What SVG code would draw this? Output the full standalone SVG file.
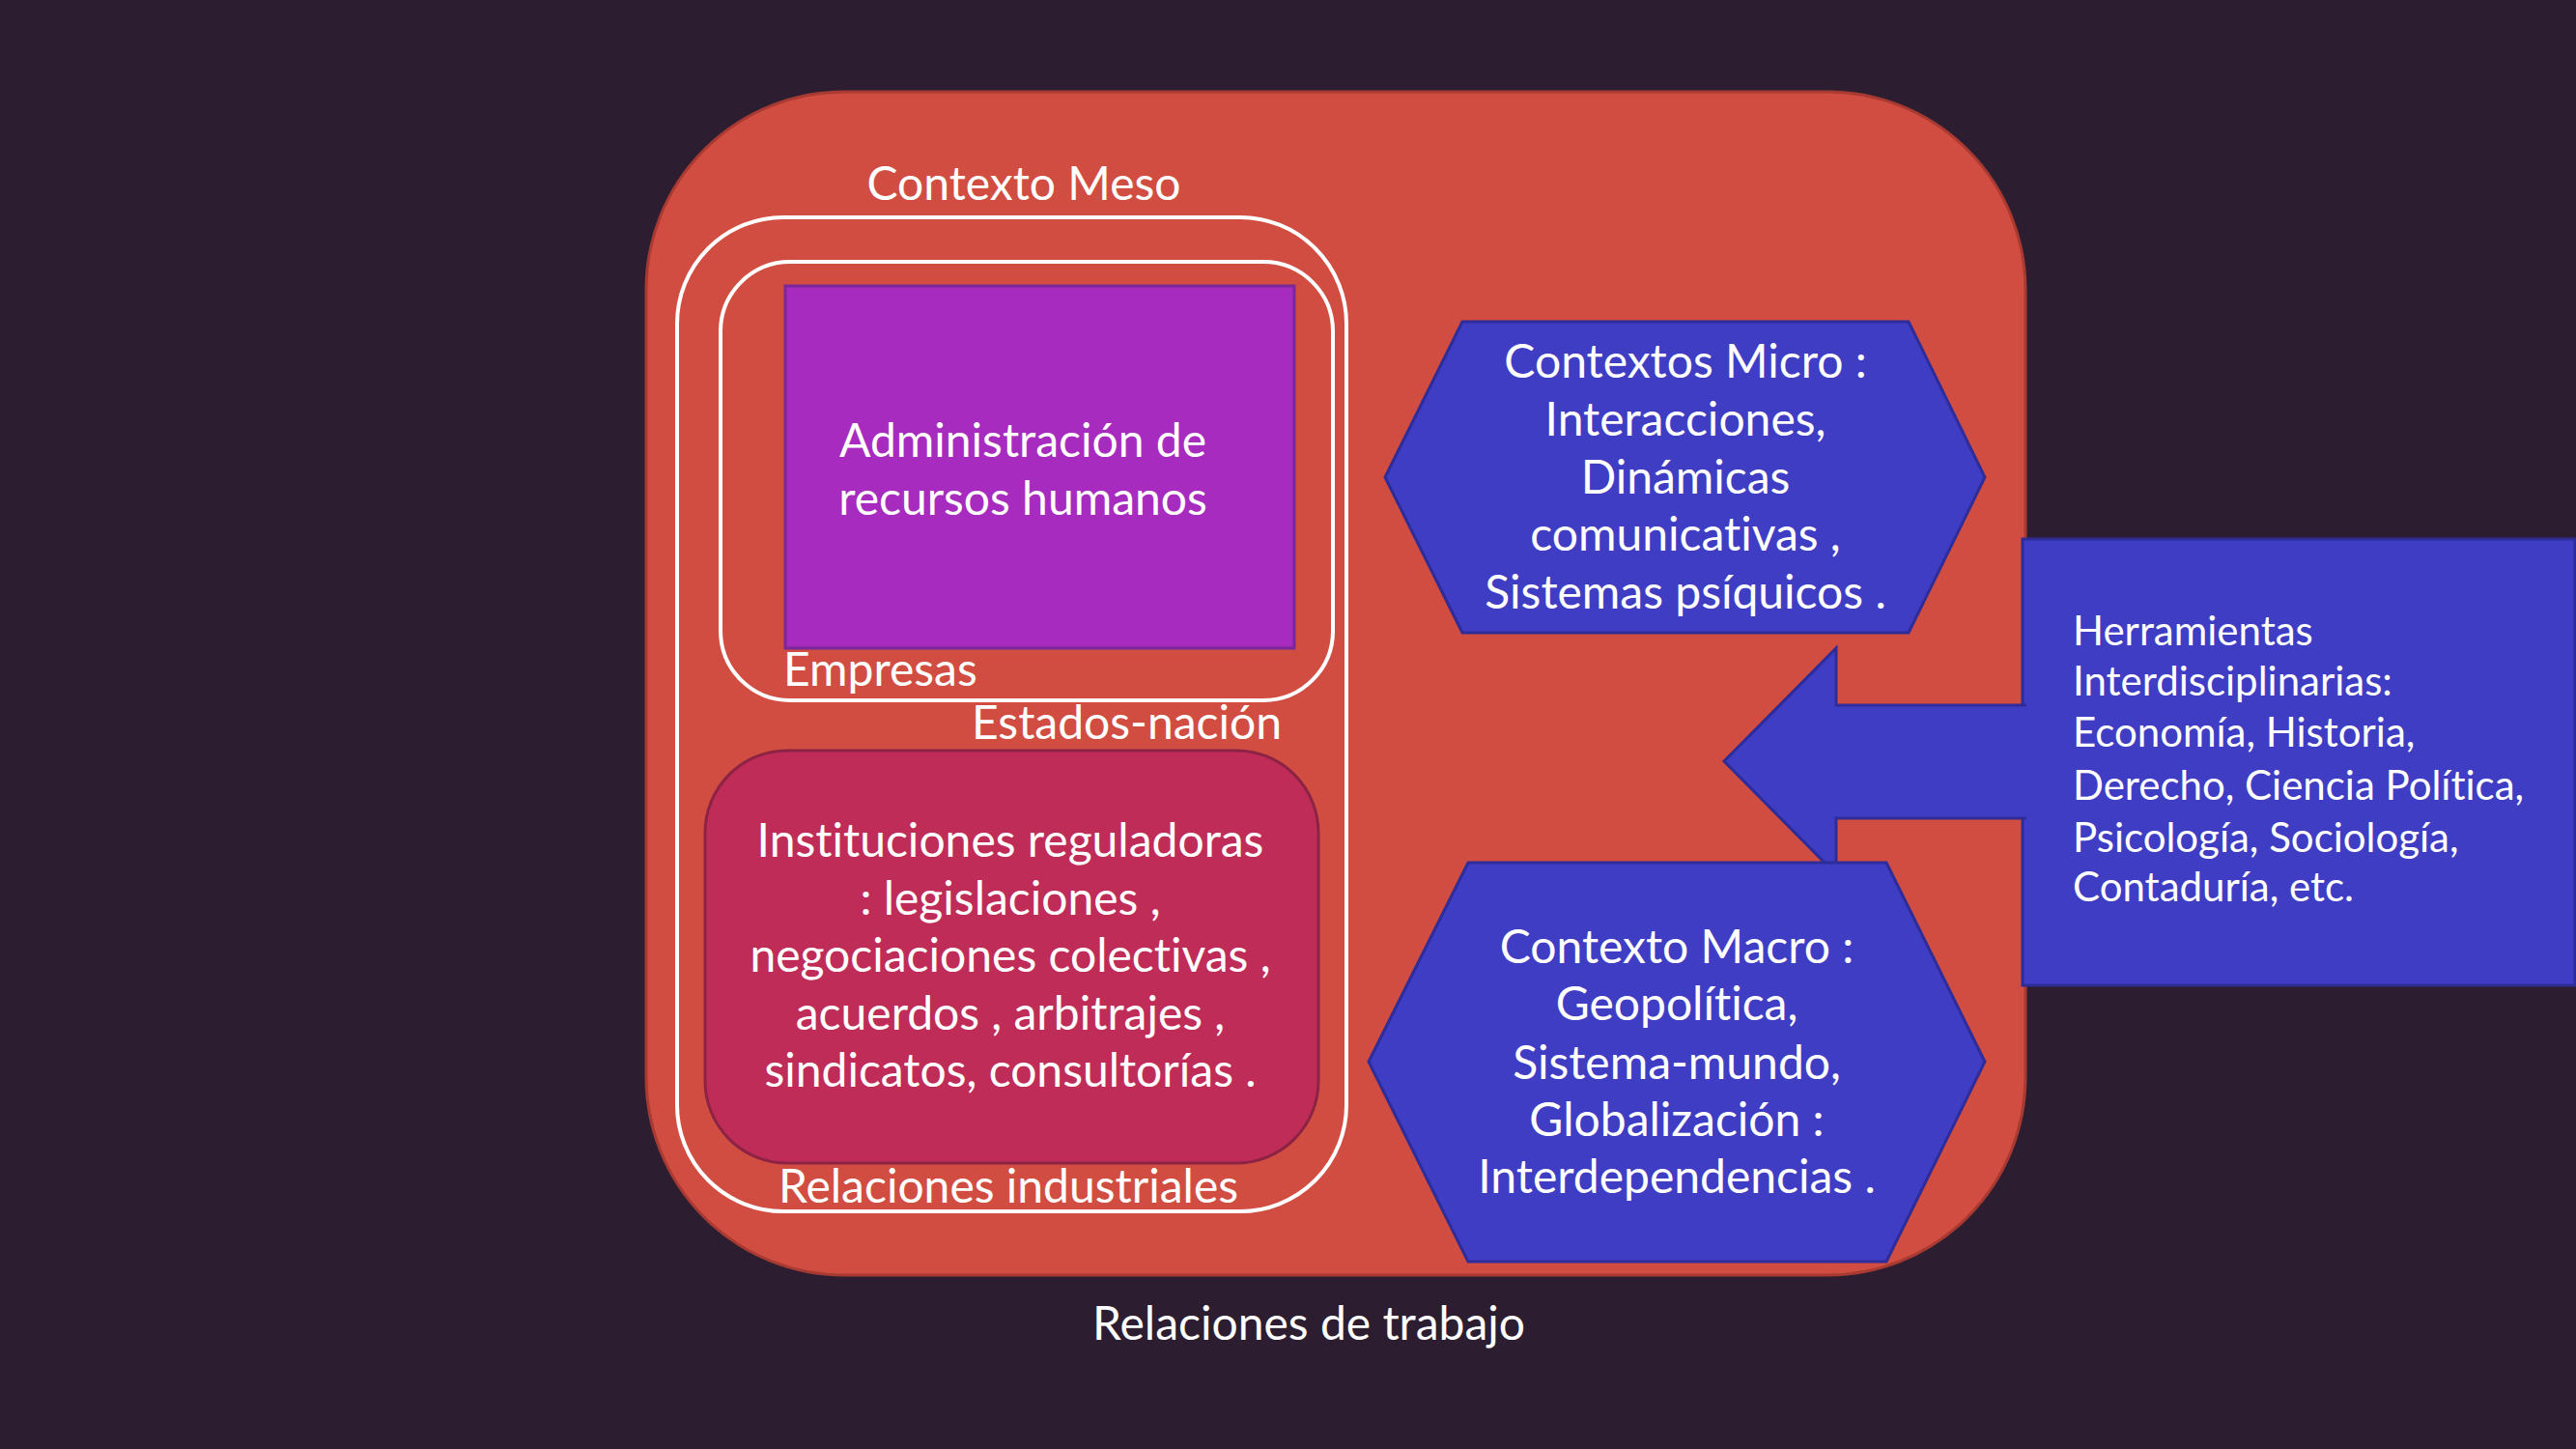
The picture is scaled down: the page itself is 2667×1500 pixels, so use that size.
<svg xmlns="http://www.w3.org/2000/svg" width="2667" height="1500" viewBox="0 0 2667 1500">
<style>
.t{font-family:Lato,"Liberation Sans",sans-serif;fill:#FFFFFF;font-size:48px;font-variant-ligatures:none}
.m{text-anchor:middle}
.s{font-size:42px}
.ring{fill:none;stroke:#FFFFFF;stroke-width:4}
.blue{fill:#3F3DC4;stroke:#2E2C98;stroke-width:3}
</style>
<rect x="0" y="0" width="2667" height="1500" fill="#2D1D31"/>
<g id="relaciones-trabajo">
<rect x="669" y="95" width="1428" height="1225" rx="205" ry="205" fill="#D24D41" stroke="#A83A32" stroke-width="3"/>
<text class="t m" x="1355" y="1387">Relaciones de trabajo</text>
</g>
<g id="relaciones-industriales">
<rect class="ring" x="701" y="225" width="693" height="1029" rx="110" ry="110"/>
<text class="t m" x="1060" y="207">Contexto Meso</text>
<text class="t m" x="1044" y="1245">Relaciones industriales</text>
<text class="t" x="1327" y="765" text-anchor="end">Estados-nación</text>
</g>
<g id="empresas">
<rect class="ring" x="746" y="271" width="634" height="454" rx="72" ry="72"/>
<text class="t" x="811" y="710">Empresas</text>
</g>
<g id="administracion">
<rect x="813" y="296" width="527" height="375" fill="#A72BBE" stroke="#7A2799" stroke-width="3"/>
<text class="t m" x="1059" y="473">Administración de</text>
<text class="t m" x="1059" y="533">recursos humanos</text>
</g>
<g id="instituciones">
<rect x="730" y="777" width="635" height="427" rx="85" ry="85" fill="#BF2C58" stroke="#8C2244" stroke-width="3"/>
<text class="t m" x="1046" y="887">Instituciones reguladoras</text>
<text class="t m" x="1046" y="947">: legislaciones ,</text>
<text class="t m" x="1046" y="1006">negociaciones colectivas ,</text>
<text class="t m" x="1046" y="1066">acuerdos , arbitrajes ,</text>
<text class="t m" x="1046" y="1125">sindicatos, consultorías .</text>
</g>
<g id="herramientas">
<rect class="blue" x="2094" y="558" width="572" height="462"/>
<text class="t s" x="2146" y="668">Herramientas</text>
<text class="t s" x="2146" y="720">Interdisciplinarias:</text>
<text class="t s" x="2146" y="773">Economía, Historia,</text>
<text class="t s" x="2146" y="828">Derecho, Ciencia Política,</text>
<text class="t s" x="2146" y="882">Psicología, Sociología,</text>
<text class="t s" x="2146" y="933">Contaduría, etc.</text>
</g>
<g id="connectors">
<path class="blue" d="M2098,730 L1901,730 L1901,671 L1785,788 L1901,905 L1901,847 L2098,847"/>
</g>
<g id="contextos-micro">
<polygon class="blue" points="1514,333 1976,333 2055,494 1976,655 1514,655 1434,494"/>
<text class="t m" x="1745" y="391">Contextos Micro :</text>
<text class="t m" x="1745" y="451">Interacciones,</text>
<text class="t m" x="1745" y="511">Dinámicas</text>
<text class="t m" x="1745" y="570">comunicativas ,</text>
<text class="t m" x="1745" y="630">Sistemas psíquicos .</text>
</g>
<g id="contexto-macro">
<polygon class="blue" points="1520,893 1953,893 2055,1099 1953,1306 1520,1306 1417,1099"/>
<text class="t m" x="1736" y="997">Contexto Macro :</text>
<text class="t m" x="1736" y="1056">Geopolítica,</text>
<text class="t m" x="1736" y="1117">Sistema-mundo,</text>
<text class="t m" x="1736" y="1176">Globalización :</text>
<text class="t m" x="1736" y="1235">Interdependencias .</text>
</g>
</svg>
